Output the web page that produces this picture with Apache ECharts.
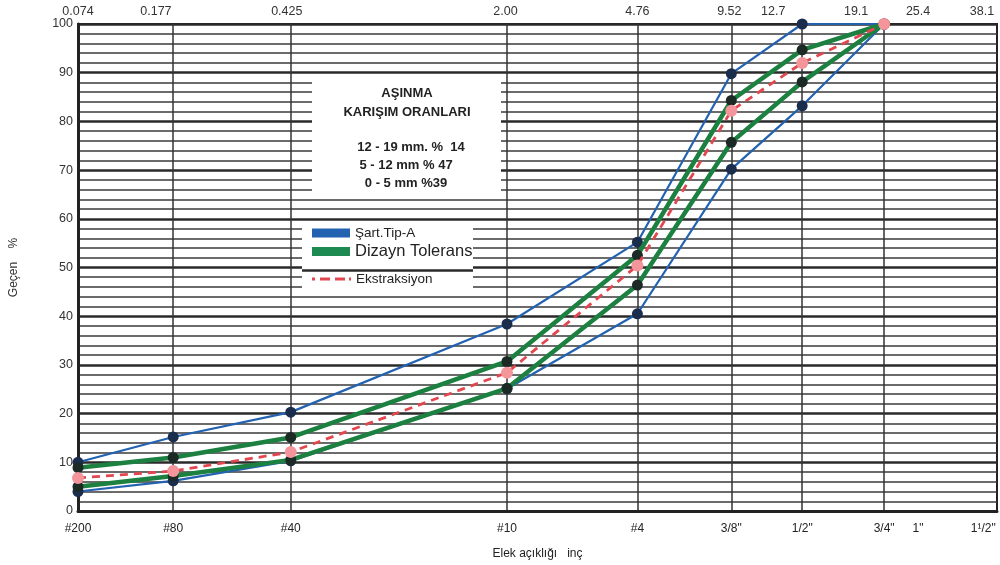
<!DOCTYPE html>
<html>
<head>
<meta charset="utf-8">
<title>Aşınma gradasyon eğrisi</title>
<script src="https://cdn.jsdelivr.net/npm/echarts@6/dist/echarts.min.js"></script>
<style>
  html, body { margin: 0; padding: 0; background: #ffffff; }
  #chart { width: 1000px; height: 565px; }
</style>
</head>
<body>
<div id="chart"></div>
<script>
// Sieves, smallest to largest
const sieveNames = ['#200', '#80', '#40', '#10', '#4', '3/8"', '1/2"', '3/4"', '1"', '1¹/2"'];
const sieveMm = ['0.074', '0.177', '0.425', '2.00', '4.76', '9.52', '12.7', '19.1', '25.4', '38.1'];
// Where each sieve sits on the printed form's horizontal scale (0–100)
const sieveStation = [0, 10.36, 23.15, 46.68, 60.87, 71.09, 78.8, 87.72, 91.4, 98.5];
// Where the mm captions are printed along the top edge (same scale)
const mmLabelStation = [0, 8.48, 22.72, 46.52, 60.87, 70.87, 75.65, 84.67, 91.41, 98.37];

// Percent passing, #200 … 3/4"
const specUpper   = [10, 15.2, 20.3, 38.4, 55.2, 89.8, 100, 100];
const specLower   = [4, 6.2, 10.3, 25.1, 40.5, 70.2, 83.2, 100];
const designUpper = [8.9, 11.0, 15.1, 30.7, 52.5, 84.3, 94.7, 100];
const designLower = [5.0, 7.2, 10.5, 25.2, 46.4, 75.7, 88.1, 100];
const extraction  = [6.8, 8.2, 12.1, 28.4, 50.4, 82.2, 92.0, 100];

const mixTitle = ['AŞINMA', 'KARIŞIM ORANLARI'];
const mixLines = ['12 - 19 mm. %  14', '5 - 12 mm % 47', '0 - 5 mm %39'];

const FONT = '"Liberation Sans", Arial, sans-serif';

function pairs(values) {
  return values.map((v, i) => [sieveStation[i], v]);
}
function indexOf(list, v) {
  return list.findIndex(s => Math.abs(s - v) < 1e-6);
}

const BLUE = '#2262b0';
const GREEN = '#1c8040';
const RED = '#e2474f';

function curve(name, values, color, width, markerColor, z, extra) {
  return Object.assign({
    type: 'line',
    name: name,
    data: pairs(values),
    xAxisIndex: 0,
    yAxisIndex: 0,
    z: z,
    symbol: 'circle',
    symbolSize: 11,
    color: color,
    lineStyle: { color: color, width: width },
    itemStyle: { color: markerColor },
    emphasis: { disabled: true },
    animation: false
  }, extra || {});
}

const chart = echarts.init(document.getElementById('chart'), null, { renderer: 'canvas' });

const option = {
  backgroundColor: '#ffffff',
  animation: false,
  grid: {
    left: 77, right: 3, top: 24, bottom: 48,
    show: true, borderColor: '#222', borderWidth: 2, backgroundColor: 'transparent'
  },
  xAxis: [
    {
      type: 'value', position: 'bottom', min: 0, max: 100,
      name: 'Elek açıklığı   inç', nameLocation: 'middle', nameGap: 37,
      nameTextStyle: { fontFamily: FONT, fontSize: 12, color: '#222' },
      axisLine: { show: true, lineStyle: { color: '#222', width: 3 } },
      axisTick: { show: false, customValues: sieveStation.slice(1, 8) },
      axisLabel: {
        customValues: sieveStation,
        formatter: v => sieveNames[indexOf(sieveStation, v)] || '',
        fontFamily: FONT, fontSize: 12, color: '#222', margin: 12
      },
      splitLine: { show: true, lineStyle: { color: '#333', width: 1.5 } }
    },
    {
      type: 'value', position: 'top', min: 0, max: 100,
      axisLine: { show: false },
      axisTick: { show: false, customValues: mmLabelStation },
      axisLabel: {
        customValues: mmLabelStation,
        formatter: v => sieveMm[indexOf(mmLabelStation, v)] || '',
        fontFamily: FONT, fontSize: 12.5, color: '#333', margin: 6
      },
      splitLine: { show: false }
    }
  ],
  yAxis: {
    type: 'value', min: 0, max: 100, interval: 10,
    name: 'Geçen    %', nameLocation: 'middle', nameGap: 58, nameRotate: 90,
    nameTextStyle: { fontFamily: FONT, fontSize: 12, color: '#333' },
    axisLine: { show: true, lineStyle: { color: '#222', width: 3 } },
    axisTick: { show: false },
    axisLabel: { fontFamily: FONT, fontSize: 12.5, color: '#333', margin: 5 },
    splitLine: { show: true, lineStyle: { color: '#2a2a2a', width: 2.6 } },
    minorTick: { show: false, splitNumber: 5 },
    minorSplitLine: { show: true, lineStyle: { color: '#3a3a3a', width: 1.6 } }
  },
  legend: [
    {
      data: ['Şart.Tip-A'], left: 312, top: 226, padding: 0,
      icon: 'rect', itemWidth: 38, itemHeight: 9,
      itemStyle: { color: BLUE, borderWidth: 0 },
      textStyle: { fontFamily: FONT, fontSize: 13.5, color: '#222' },
      selectedMode: false
    },
    {
      data: ['Dizayn Tolerans'], left: 312, top: 243, padding: 0,
      icon: 'rect', itemWidth: 38, itemHeight: 9,
      itemStyle: { color: '#1d8a52', borderWidth: 0 },
      textStyle: { fontFamily: FONT, fontSize: 16.5, color: '#222' },
      selectedMode: false
    },
    {
      data: ['Ekstraksiyon'], left: 312, top: 272, padding: 0,
      icon: 'path://M0,0h3v3h-3z M8,0h10v3h-10z M23,0h10v3h-10z M37,0h2v3h-2z',
      symbolKeepAspect: false, itemWidth: 39, itemHeight: 3,
      itemStyle: { color: RED, borderWidth: 0 },
      textStyle: { fontFamily: FONT, fontSize: 13.5, color: '#222' },
      selectedMode: false
    }
  ],
  graphic: [
    // blending-ratio note
    { type: 'rect', z: 1, silent: true, shape: { x: 312, y: 78, width: 189, height: 120 },
      style: { fill: '#ffffff' } },
    { type: 'text', z: 2, silent: true, x: 407, y: 93,
      style: { text: mixTitle[0], font: 'bold 13px ' + FONT, fill: '#222', align: 'center', verticalAlign: 'middle' } },
    { type: 'text', z: 2, silent: true, x: 407, y: 112,
      style: { text: mixTitle[1], font: 'bold 13px ' + FONT, fill: '#222', align: 'center', verticalAlign: 'middle' } },
    { type: 'text', z: 2, silent: true, x: 411, y: 147,
      style: { text: mixLines[0], font: 'bold 13px ' + FONT, fill: '#222', align: 'center', verticalAlign: 'middle' } },
    { type: 'text', z: 2, silent: true, x: 406, y: 165,
      style: { text: mixLines[1], font: 'bold 13px ' + FONT, fill: '#222', align: 'center', verticalAlign: 'middle' } },
    { type: 'text', z: 2, silent: true, x: 406, y: 183,
      style: { text: mixLines[2], font: 'bold 13px ' + FONT, fill: '#222', align: 'center', verticalAlign: 'middle' } },
    // key panel
    { type: 'rect', z: 1, silent: true, shape: { x: 302, y: 225, width: 171, height: 64 },
      style: { fill: '#ffffff' } },
    { type: 'line', z: 1, silent: true, shape: { x1: 302, y1: 270.5, x2: 473, y2: 270.5 },
      style: { stroke: '#2a2a2a', lineWidth: 2.6 } }
  ],
  series: [
    curve('Şart.Tip-A', specUpper, BLUE, 2.2, '#1b2d4d', 3),
    curve('Şart.Tip-A', specLower, BLUE, 2.2, '#1b2d4d', 3),
    curve('Dizayn Tolerans', designUpper, GREEN, 4.5, '#1c2a26', 4),
    curve('Dizayn Tolerans', designLower, GREEN, 4.5, '#1c2a26', 4),
    curve('Ekstraksiyon', extraction, RED, 2.8, '#f4959b', 5,
      { lineStyle: { color: RED, width: 2.8, type: [8, 6] }, symbolSize: 12 })
  ]
};

chart.setOption(option);
</script>
</body>
</html>
